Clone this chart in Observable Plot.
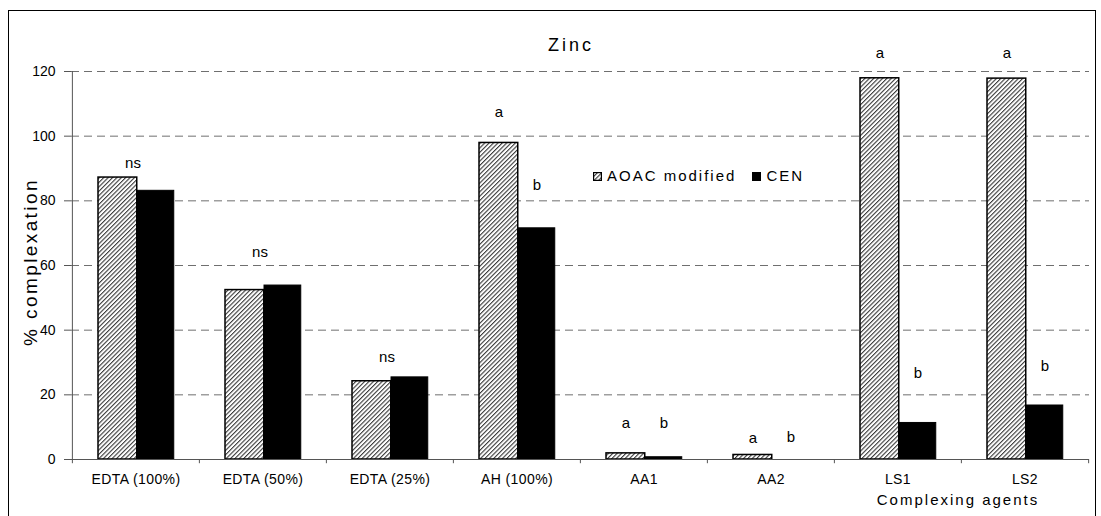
<!DOCTYPE html>
<html>
<head>
<meta charset="utf-8">
<script src="https://cdn.jsdelivr.net/npm/d3@7"></script>
<script src="https://cdn.jsdelivr.net/npm/@observablehq/plot@0.6"></script>
<style>
  body { margin: 0; background: #fff; font-family: "Liberation Sans", Arial, sans-serif; }
  #wrap { position: relative; width: 1101px; height: 516px; overflow: hidden; }
  #wrap svg.plot { position: absolute; left: 0; top: 0; }
  #border { position: absolute; left: 8px; top: 10px; width: 1088px; height: 560px; box-sizing: border-box; border: 1px solid #000; pointer-events: none; }
  #title { position: absolute; left: 471px; width: 200px; top: 35px; line-height: 20px; text-align: center; font-size: 18px; letter-spacing: 3px; color: #000; }
  #ylabel { position: absolute; left: -89px; top: 252px; width: 240px; height: 20px; line-height: 20px; text-align: center; font-size: 19px; letter-spacing: 2.4px; transform: rotate(-90deg); color: #000; }
  #xlabel { position: absolute; left: 858px; width: 200px; top: 491px; line-height: 18px; text-align: center; font-size: 15px; letter-spacing: 2px; color: #000; }
  #legend { position: absolute; left: 593px; top: 166px; height: 20px; line-height: 20px; font-size: 15px; letter-spacing: 2px; white-space: nowrap; color: #000; }
  #legend .sw { display: inline-block; width: 9px; height: 9px; vertical-align: middle; position: relative; top: -1px; }
  #legend .item { display: inline-block; }
</style>
</head>
<body>
<svg width="0" height="0" style="position:absolute">
  <defs>
    <pattern id="hatch" patternUnits="userSpaceOnUse" width="3.1" height="3.1" patternTransform="rotate(45)">
      <rect width="3.1" height="3.1" fill="#fff"></rect>
      <rect x="0" y="0" width="1.1" height="3.1" fill="#3a3a3a"></rect>
    </pattern>
  </defs>
</svg>
<div id="wrap">
  <div id="chart"></div>
  <div id="title">Zinc</div>
  <div id="ylabel">% complexation</div>
  <div id="xlabel">Complexing agents</div>
  <div id="legend">
    <span class="item"><svg class="sw" viewBox="0 0 9 9"><rect x="0.6" y="0.6" width="7.8" height="7.8" fill="url(#hatch)" stroke="#000" stroke-width="1.2"></rect></svg><span style="margin-left:5px">AOAC modified</span></span><span class="item" style="margin-left:16px"><svg class="sw" viewBox="0 0 9 9"><rect x="0.6" y="0.6" width="7.8" height="7.8" fill="#000" stroke="#000" stroke-width="1.2"></rect></svg><span style="margin-left:5px">CEN</span></span>
  </div>
  <div id="border"></div>
</div>
<script>
// Complexing agents on the x axis
const categories = ["EDTA (100%)", "EDTA (50%)", "EDTA (25%)", "AH (100%)", "AA1", "AA2", "LS1", "LS2"];
// % complexation of zinc by each method
const aoacModified = [87.2, 52.4, 24.2, 97.9, 1.9, 1.4, 117.9, 117.8];
const cenMethod = [83.1, 53.8, 25.4, 71.5, 0.7, 0, 11.3, 16.7];
const yTicks = [0, 20, 40, 60, 80, 100, 120];

// Significance letters and the height (in %) each one sits at
const groupLetters = ["ns", "ns", "ns", null, null, null, null, null];
const groupLetterAt = [91.6, 64.0, 31.6, null, null, null, null, null];
const aoacLetters = [null, null, null, "a", "a", "a", "a", "a"];
const aoacLetterAt = [null, null, null, 107.3, 11.3, 6.7, 125.7, 125.7];
const cenLetters = [null, null, null, "b", "b", "b", "b", "b"];
const cenLetterAt = [null, null, null, 84.9, 11.3, 6.9, 26.6, 28.8];

const aoacRows = categories.map((c, i) => ({category: c, value: aoacModified[i]}));
const cenRows = categories.map((c, i) => ({category: c, value: cenMethod[i]}));
const letterRows = (letters, at) =>
  categories.map((c, i) => ({category: c, text: letters[i], y: at[i]})).filter(d => d.text);

const W = 1101, H = 516;
const marginLeft = 71, marginRight = 12;
const band = (W - marginLeft - marginRight) / categories.length;

const plot = Plot.plot({
  width: W,
  height: H,
  marginLeft,
  marginRight,
  marginTop: 71,
  marginBottom: 57,
  style: {fontFamily: "'Liberation Sans', Arial, sans-serif", fontSize: "14px", color: "#000", background: "transparent"},
  x: {type: "band", domain: categories, padding: 0, label: null},
  y: {domain: [0, 120], label: null},
  marks: [
    // dashed horizontal gridlines
    Plot.ruleY(yTicks.slice(1), {stroke: "#6f6f6f", strokeWidth: 1, strokeDasharray: "8,5"}),
    // bars: hatched AOAC modified on the left, solid CEN on the right of each group
    Plot.barY(aoacRows, {x: "category", y: "value", fill: "url(#hatch)", stroke: "#000", strokeWidth: 1.5,
      insetLeft: 26, insetRight: band - 65}),
    Plot.barY(cenRows, {x: "category", y: "value", fill: "#000", stroke: "#000", strokeWidth: 1,
      insetLeft: 65, insetRight: band - 102}),
    // axis lines
    Plot.ruleY([0], {stroke: "#555", strokeWidth: 1}),
    Plot.ruleX(categories.slice(0, 1), {x: d => d, dx: -band / 2, y1: 0, y2: 120, stroke: "#555", strokeWidth: 1}),
    // tick marks at the group boundaries
    Plot.ruleX(categories, {x: d => d, dx: -band / 2, y1: 0, y2: -1.3, stroke: "#555"}),
    Plot.ruleX(categories.slice(-1), {x: d => d, dx: band / 2, y1: 0, y2: -1.3, stroke: "#555"}),
    Plot.axisY({ticks: yTicks, tickSize: 7, tickPadding: 9, stroke: "#555", fontSize: 14, fill: "#000"}),
    Plot.axisX({tickSize: 0, tickPadding: 15, fontSize: 14, fill: "#000"}),
    // significance letters
    Plot.text(letterRows(groupLetters, groupLetterAt), {x: "category", y: "y", text: "text", dx: -3, fontSize: 15, fill: "#000"}),
    Plot.text(letterRows(aoacLetters, aoacLetterAt), {x: "category", y: "y", text: "text", dx: 45.5 - band / 2, fontSize: 15, fill: "#000"}),
    Plot.text(letterRows(cenLetters, cenLetterAt), {x: "category", y: "y", text: "text", dx: 83.5 - band / 2, fontSize: 15, fill: "#000"})
  ]
});
plot.classList.add("plot");
plot.querySelectorAll("g[aria-label='x-axis tick label'] text").forEach(t => t.setAttribute("letter-spacing", "0.4"));
document.getElementById("chart").appendChild(plot);
</script>
</body>
</html>
